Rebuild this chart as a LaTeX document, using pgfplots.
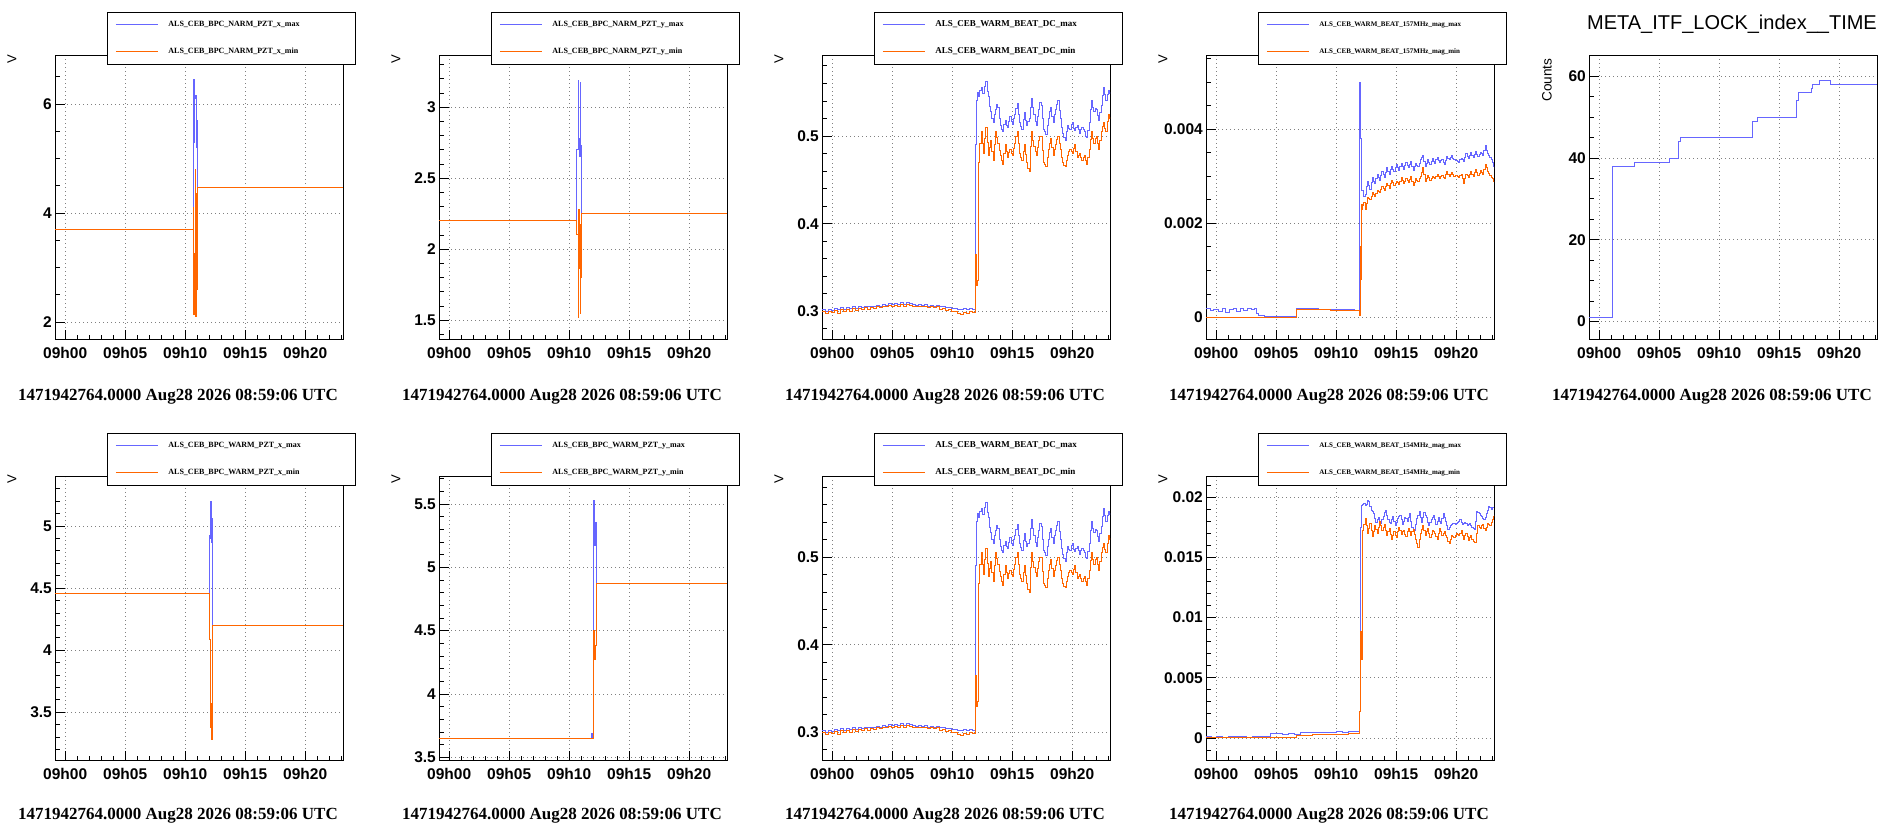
\documentclass[border=0pt]{standalone}
\usepackage{fontspec}
\setmainfont{Liberation Serif}
\setsansfont{Liberation Sans}
\usepackage{pgfplots}
\pgfplotsset{compat=1.18}
\usepackage{pgfplotstable}
\definecolor{rblue}{HTML}{6666FF}
\definecolor{rorange}{HTML}{FF6600}

\pgfplotstableread{
x y
-0.85 0.302
-0.6 0.300
-0.35 0.302
-0.1 0.301
0.15 0.303
0.4 0.302
0.65 0.304
0.9 0.302
1.15 0.304
1.4 0.303
1.65 0.305
1.9 0.303
2.15 0.305
2.4 0.304
2.65 0.306
2.9 0.305
3.15 0.306
3.4 0.305
3.65 0.307
3.9 0.306
4.15 0.308
4.4 0.307
4.65 0.309
4.9 0.308
5.15 0.309
5.4 0.308
5.65 0.310
5.9 0.308
6.15 0.310
6.4 0.309
6.65 0.308
6.9 0.307
7.15 0.308
7.4 0.307
7.65 0.308
7.9 0.306
8.15 0.307
8.4 0.306
8.65 0.307
8.9 0.305
9.15 0.305
9.4 0.304
9.65 0.304
9.9 0.303
10.15 0.303
10.4 0.302
10.65 0.302
10.9 0.303
11.15 0.302
11.4 0.303
11.65 0.302
11.95 0.490
12.0 0.540
12.1 0.550
12.2 0.545
12.3 0.552
12.4 0.555
12.5 0.549
12.6 0.548
12.7 0.556
12.8 0.562
12.9 0.551
13.0 0.545
13.1 0.534
13.2 0.528
13.3 0.520
13.4 0.515
13.5 0.524
13.6 0.530
13.7 0.536
13.8 0.533
13.9 0.520
14.0 0.512
14.1 0.508
14.2 0.505
14.3 0.513
14.4 0.518
14.5 0.512
14.6 0.510
14.7 0.517
14.8 0.522
14.9 0.516
15.0 0.513
15.1 0.520
15.2 0.525
15.3 0.531
15.4 0.537
15.5 0.524
15.6 0.515
15.7 0.511
15.8 0.508
15.9 0.519
16.0 0.527
16.1 0.518
16.2 0.512
16.3 0.516
16.4 0.520
16.5 0.533
16.6 0.543
16.7 0.532
16.8 0.525
16.9 0.517
17.0 0.512
17.1 0.522
17.2 0.530
17.3 0.538
17.4 0.535
17.5 0.520
17.6 0.508
17.7 0.505
17.8 0.502
17.9 0.512
18.0 0.520
18.1 0.528
18.2 0.533
18.3 0.522
18.4 0.515
18.5 0.524
18.6 0.530
18.7 0.536
18.8 0.540
18.9 0.529
19.0 0.520
19.1 0.510
19.2 0.503
19.3 0.498
19.4 0.495
19.5 0.505
19.6 0.512
19.7 0.509
19.8 0.508
19.9 0.513
20.0 0.515
20.1 0.509
20.2 0.506
20.3 0.510
20.4 0.512
20.5 0.507
20.6 0.503
20.7 0.507
20.8 0.510
20.9 0.507
21.0 0.505
21.1 0.500
21.2 0.498
21.3 0.506
21.4 0.515
21.5 0.530
21.6 0.540
21.7 0.533
21.8 0.528
21.9 0.531
22.0 0.530
22.1 0.523
22.2 0.518
22.3 0.527
22.4 0.535
22.5 0.546
22.6 0.555
22.7 0.547
22.8 0.540
22.9 0.547
23.0 0.552
23.1 0.548
23.15 0.550
}\dcmax

\pgfplotstableread{
x y
-0.85 0.300
-0.6 0.298
-0.35 0.300
-0.1 0.299
0.15 0.301
0.4 0.298
0.65 0.302
0.9 0.300
1.15 0.302
1.4 0.300
1.65 0.303
1.9 0.301
2.15 0.303
2.4 0.302
2.65 0.304
2.9 0.302
3.15 0.304
3.4 0.303
3.65 0.305
3.9 0.304
4.15 0.306
4.4 0.305
4.65 0.307
4.9 0.306
5.15 0.307
5.4 0.306
5.65 0.308
5.9 0.306
6.15 0.308
6.4 0.307
6.65 0.306
6.9 0.305
7.15 0.306
7.4 0.305
7.65 0.306
7.9 0.304
8.15 0.305
8.4 0.304
8.65 0.305
8.9 0.302
9.15 0.303
9.4 0.301
9.65 0.302
9.9 0.300
10.15 0.300
10.4 0.297
10.65 0.296
10.9 0.299
11.15 0.298
11.4 0.300
11.65 0.299
11.95 0.365
12.0 0.330
12.1 0.335
12.2 0.470
12.3 0.492
12.4 0.505
12.5 0.491
12.6 0.480
12.7 0.497
12.8 0.510
12.9 0.493
13.0 0.478
13.1 0.487
13.2 0.495
13.3 0.482
13.4 0.472
13.5 0.490
13.6 0.505
13.7 0.498
13.8 0.492
13.9 0.484
14.0 0.478
14.1 0.472
14.2 0.468
14.3 0.480
14.4 0.490
14.5 0.482
14.6 0.475
14.7 0.481
14.8 0.485
14.9 0.480
15.0 0.478
15.1 0.486
15.2 0.492
15.3 0.499
15.4 0.505
15.5 0.491
15.6 0.480
15.7 0.476
15.8 0.472
15.9 0.482
16.0 0.490
16.1 0.479
16.2 0.470
16.3 0.463
16.4 0.460
16.5 0.488
16.6 0.505
16.7 0.495
16.8 0.488
16.9 0.482
17.0 0.478
17.1 0.487
17.2 0.495
17.3 0.499
17.4 0.500
17.5 0.484
17.6 0.470
17.7 0.467
17.8 0.465
17.9 0.476
18.0 0.485
18.1 0.492
18.2 0.497
18.3 0.487
18.4 0.478
18.5 0.485
18.6 0.490
18.7 0.496
18.8 0.500
18.9 0.492
19.0 0.485
19.1 0.476
19.2 0.470
19.3 0.466
19.4 0.465
19.5 0.472
19.6 0.478
19.7 0.482
19.8 0.485
19.9 0.482
20.0 0.480
20.1 0.486
20.2 0.490
20.3 0.482
20.4 0.475
20.5 0.478
20.6 0.480
20.7 0.475
20.8 0.472
20.9 0.476
21.0 0.478
21.1 0.472
21.2 0.468
21.3 0.476
21.4 0.485
21.5 0.496
21.6 0.505
21.7 0.497
21.8 0.492
21.9 0.497
22.0 0.500
22.1 0.492
22.2 0.485
22.3 0.495
22.4 0.505
22.5 0.511
22.6 0.515
22.7 0.509
22.8 0.505
22.9 0.516
23.0 0.525
23.1 0.520
23.15 0.522
}\dcmin

\pgfplotstableread{
x y
-0.85 0.00018
-0.5 0.00014
-0.2 0.00017
0.2 0.00012
0.5 0.00018
0.8 0.00011
1.1 0.00016
1.4 0.00019
1.7 0.00013
2.0 0.00018
2.3 0.00015
2.6 0.00019
2.9 0.00016
3.2 0.00018
3.36 0.00009
3.5 0.00004
4 0.00002
5 0.00003
6 0.00002
6.7 0.00019
7.5 0.00018
8.5 0.00017
9.5 0.00016
10.5 0.00016
11.5 0.00015
11.97 0.0050
12.05 0.0038
12.1 0.0027
12.2 0.00270
12.3 0.00258
12.4 0.00262
12.5 0.00278
12.6 0.00290
12.7 0.00280
12.8 0.00272
12.9 0.00288
13.0 0.00298
13.1 0.00290
13.2 0.00285
13.3 0.00296
13.4 0.00305
13.5 0.00298
13.6 0.00292
13.7 0.00302
13.8 0.00310
13.9 0.00303
14.0 0.00298
14.1 0.00309
14.2 0.00318
14.3 0.00310
14.4 0.00305
14.5 0.00314
14.6 0.00322
14.7 0.00315
14.8 0.00310
14.9 0.00318
15.0 0.00325
15.1 0.00318
15.2 0.00312
15.3 0.00321
15.4 0.00328
15.5 0.00320
15.6 0.00315
15.7 0.00323
15.8 0.00330
15.9 0.00323
16.0 0.00318
16.1 0.00326
16.2 0.00332
16.3 0.00320
16.4 0.00312
16.5 0.00320
16.6 0.00328
16.7 0.00323
16.8 0.00320
16.9 0.00328
17.0 0.00335
17.1 0.00340
17.2 0.00345
17.3 0.00332
17.4 0.00322
17.5 0.00328
17.6 0.00335
17.7 0.00329
17.8 0.00325
17.9 0.00332
18.0 0.00338
18.1 0.00332
18.2 0.00328
18.3 0.00335
18.4 0.00340
18.5 0.00334
18.6 0.00330
18.7 0.00333
18.8 0.00335
18.9 0.00329
19.0 0.00325
19.1 0.00334
19.2 0.00342
19.3 0.00338
19.4 0.00335
19.5 0.00341
19.6 0.00345
19.7 0.00339
19.8 0.00335
19.9 0.00334
20.0 0.00333
20.1 0.00331
20.2 0.00330
20.3 0.00335
20.4 0.00338
20.5 0.00335
20.6 0.00332
20.7 0.00341
20.8 0.00348
20.9 0.00342
21.0 0.00338
21.1 0.00345
21.2 0.00350
21.3 0.00344
21.4 0.00340
21.5 0.00347
21.6 0.00352
21.7 0.00346
21.8 0.00342
21.9 0.00347
22.0 0.00350
22.1 0.00348
22.2 0.00345
22.3 0.00356
22.4 0.00365
22.5 0.00355
22.6 0.00348
22.7 0.00344
22.8 0.00340
22.9 0.00336
23.0 0.00330
23.1 0.00322
23.15 0.00315
}\hmax

\pgfplotstableread{
x y
-0.85 0
6.7 0.00017
8 0.00016
9.5 0.00015
11 0.00014
11.97 0.00004
12.0 0.0015
12.05 0.0008
12.1 0.0024
12.15 0.00230
12.2 0.00238
12.3 0.00245
12.4 0.00230
12.5 0.00243
12.6 0.00255
12.7 0.00252
12.8 0.00250
12.9 0.00258
13.0 0.00265
13.1 0.00261
13.2 0.00258
13.3 0.00264
13.4 0.00270
13.5 0.00267
13.6 0.00265
13.7 0.00272
13.8 0.00278
13.9 0.00274
14.0 0.00270
14.1 0.00278
14.2 0.00285
14.3 0.00280
14.4 0.00275
14.5 0.00284
14.6 0.00292
14.7 0.00286
14.8 0.00280
14.9 0.00285
15.0 0.00290
15.1 0.00286
15.2 0.00282
15.3 0.00290
15.4 0.00298
15.5 0.00291
15.6 0.00285
15.7 0.00290
15.8 0.00295
15.9 0.00291
16.0 0.00288
16.1 0.00294
16.2 0.00300
16.3 0.00290
16.4 0.00280
16.5 0.00288
16.6 0.00295
16.7 0.00292
16.8 0.00290
16.9 0.00295
17.0 0.00300
17.1 0.00309
17.2 0.00318
17.3 0.00304
17.4 0.00290
17.5 0.00296
17.6 0.00302
17.7 0.00297
17.8 0.00292
17.9 0.00296
18.0 0.00300
18.1 0.00297
18.2 0.00295
18.3 0.00300
18.4 0.00305
18.5 0.00300
18.6 0.00295
18.7 0.00299
18.8 0.00302
18.9 0.00298
19.0 0.00295
19.1 0.00303
19.2 0.00310
19.3 0.00305
19.4 0.00300
19.5 0.00304
19.6 0.00308
19.7 0.00304
19.8 0.00300
19.9 0.00301
20.0 0.00302
20.1 0.00300
20.2 0.00298
20.3 0.00302
20.4 0.00305
20.5 0.00295
20.6 0.00285
20.7 0.00295
20.8 0.00305
20.9 0.00301
21.0 0.00298
21.1 0.00304
21.2 0.00310
21.3 0.00305
21.4 0.00300
21.5 0.00308
21.6 0.00315
21.7 0.00308
21.8 0.00302
21.9 0.00307
22.0 0.00312
22.1 0.00308
22.2 0.00305
22.3 0.00315
22.4 0.00325
22.5 0.00318
22.6 0.00310
22.7 0.00306
22.8 0.00302
22.9 0.00298
23.0 0.00295
23.1 0.00290
23.15 0.00288
}\hmin

\pgfplotstableread{
x y
-0.85 0.00012
-0.4 0.00008
0 0.00011
0.5 0.00007
1 0.00012
1.5 0.00009
2 0.00013
2.5 0.00008
3 0.00012
3.5 0.0001
4 0.00011
4.5 0.00034
5 0.00035
5.5 0.00032
6 0.00036
6.5 0.00033
7 0.00045
7.5 0.00044
8 0.00047
8.5 0.00045
9 0.00048
9.5 0.00046
10 0.0005
10.5 0.00049
11 0.00052
11.5 0.00055
11.97 0.0022
12.0 0.0175
12.1 0.0193
12.2 0.0194
12.3 0.0195
12.4 0.0193
12.5 0.0194
12.6 0.0197
12.7 0.0196
12.8 0.0192
12.9 0.0189
13.0 0.0188
13.1 0.0186
13.2 0.0182
13.3 0.0179
13.4 0.0181
13.5 0.0183
13.6 0.0180
13.7 0.0178
13.8 0.0181
13.9 0.0184
14.0 0.0187
14.1 0.0189
14.2 0.0185
14.3 0.0181
14.4 0.0179
14.5 0.0178
14.6 0.0181
14.7 0.0184
14.8 0.0180
14.9 0.0176
15.0 0.0179
15.1 0.0182
15.2 0.0184
15.3 0.0185
15.4 0.0181
15.5 0.0177
15.6 0.0180
15.7 0.0183
15.8 0.0182
15.9 0.0180
16.0 0.0183
16.1 0.0186
16.2 0.0180
16.3 0.0175
16.4 0.0173
16.5 0.0172
16.6 0.0177
16.7 0.0182
16.8 0.0185
16.9 0.0188
17.0 0.0183
17.1 0.0179
17.2 0.0183
17.3 0.0187
17.4 0.0185
17.5 0.0183
17.6 0.0179
17.7 0.0176
17.8 0.0179
17.9 0.0181
18.0 0.0183
18.1 0.0185
18.2 0.0181
18.3 0.0177
18.4 0.0180
18.5 0.0183
18.6 0.0180
18.7 0.0178
18.8 0.0182
18.9 0.0186
19.0 0.0183
19.1 0.0180
19.2 0.0176
19.3 0.0173
19.4 0.0175
19.5 0.0176
19.6 0.0177
19.7 0.0178
19.8 0.0178
19.9 0.0177
20.0 0.0178
20.1 0.0179
20.2 0.0180
20.3 0.0181
20.4 0.0179
20.5 0.0177
20.6 0.0178
20.7 0.0179
20.8 0.0178
20.9 0.0176
21.0 0.0177
21.1 0.0178
21.2 0.0176
21.3 0.0175
21.4 0.0174
21.5 0.0173
21.6 0.0180
21.7 0.0188
21.8 0.0187
21.9 0.0186
22.0 0.0185
22.1 0.0184
22.2 0.0182
22.3 0.0181
22.4 0.0183
22.5 0.0186
22.6 0.0189
22.7 0.0192
22.8 0.0191
22.9 0.0190
23.0 0.0191
23.15 0.0191
}\gmax

\pgfplotstableread{
x y
-0.85 0
6.7 0.0002
8 0.00028
9 0.0003
10 0.00033
11 0.00035
11.97 0.0022
12.02 0.0088
12.1 0.0065
12.2 0.0172
12.3 0.0177
12.4 0.0182
12.5 0.0176
12.6 0.0170
12.7 0.0174
12.8 0.0178
12.9 0.0172
13.0 0.0167
13.1 0.0171
13.2 0.0176
13.3 0.0173
13.4 0.0170
13.5 0.0175
13.6 0.0180
13.7 0.0176
13.8 0.0172
13.9 0.0175
14.0 0.0177
14.1 0.0172
14.2 0.0168
14.3 0.0171
14.4 0.0174
14.5 0.0169
14.6 0.0165
14.7 0.0168
14.8 0.0171
14.9 0.0168
15.0 0.0166
15.1 0.0171
15.2 0.0175
15.3 0.0172
15.4 0.0169
15.5 0.0171
15.6 0.0172
15.7 0.0169
15.8 0.0167
15.9 0.0171
16.0 0.0174
16.1 0.0171
16.2 0.0168
16.3 0.0171
16.4 0.0173
16.5 0.0169
16.6 0.0165
16.7 0.0161
16.8 0.0158
16.9 0.0165
17.0 0.0170
17.1 0.0173
17.2 0.0176
17.3 0.0172
17.4 0.0168
17.5 0.0171
17.6 0.0174
17.7 0.0170
17.8 0.0166
17.9 0.0169
18.0 0.0172
18.1 0.0171
18.2 0.0170
18.3 0.0167
18.4 0.0165
18.5 0.0170
18.6 0.0174
18.7 0.0171
18.8 0.0168
18.9 0.0170
19.0 0.0171
19.1 0.0168
19.2 0.0166
19.3 0.0163
19.4 0.0161
19.5 0.0165
19.6 0.0168
19.7 0.0167
19.8 0.0166
19.9 0.0168
20.0 0.0170
20.1 0.0169
20.2 0.0168
20.3 0.0170
20.4 0.0172
20.5 0.0168
20.6 0.0165
20.7 0.0168
20.8 0.0170
20.9 0.0167
21.0 0.0164
21.1 0.0166
21.2 0.0168
21.3 0.0165
21.4 0.0163
21.5 0.0162
21.6 0.0162
21.7 0.0170
21.8 0.0176
21.9 0.0175
22.0 0.0174
22.1 0.0176
22.2 0.0177
22.3 0.0174
22.4 0.0172
22.5 0.0175
22.6 0.0178
22.7 0.0177
22.8 0.0176
22.9 0.0179
23.0 0.0181
23.1 0.0184
23.15 0.0185
}\gmin

\pgfplotsset{
  rootaxis/.style={
    scale only axis, width=288pt, height=284pt, anchor=south west,
    xmin=-0.85, xmax=23.15,
    xtick={0,5,10,15,20}, xticklabels={09h00,09h05,09h10,09h15,09h20},
    minor xtick={1,2,3,4,6,7,8,9,11,12,13,14,16,17,18,19,21,22,23},
    tick align=inside, xtick pos=bottom, ytick pos=left,
    major tick length=10pt, minor tick length=5pt,
    tick style={black, line width=0.8pt},
    axis line style={line width=1pt},
    grid=major, major grid style={gray, line width=0.9pt, dash pattern=on 1pt off 3pt},
    scaled ticks=false,
    tick label style={font=\fontsize{15.5}{16}\selectfont\sffamily\bfseries, inner sep=0pt},
    xticklabel style={yshift=-7pt},
    yticklabel style={xshift=-3pt},
    legend cell align=left,
    legend style={at={(rel axis cs:0.1806,1.155)}, anchor=north west, draw=black, line width=0.8pt, fill=white,
       inner xsep=0pt, inner ysep=8.5pt, column sep=10pt, row sep=19pt,
       font=\fontsize{8}{8}\selectfont\bfseries,
       nodes={inner sep=0pt, text height=6pt, text depth=2pt}},
    legend image code/.code={\path (0pt,0pt); \draw[##1] (8pt,0pt) -- (50pt,0pt);},
  },
  bl/.style={rblue, line width=1pt, const plot, mark=none},
  og/.style={rorange, line width=1pt, const plot, mark=none},
}
\newcommand{\lt}[1]{\makebox[187pt][l]{#1}}

\begin{document}
\begin{tikzpicture}
\useasboundingbox (0pt,0pt) rectangle (1903pt,835pt);

% ---------- Row 1 ----------
\begin{axis}[rootaxis, at={(55pt,495pt)},
  ymin=1.67, ymax=6.88, ytick={2,4,6}, yticklabels={2,4,6},
  minor ytick={2.5,3,3.5,4.5,5,5.5,6.5}]
\addplot[bl] coordinates {(-0.85,3.69) (10.67,4.1) (10.69,6.45) (10.72,5.3) (10.74,6.45) (10.77,5.3) (10.8,6.1) (10.89,6.15) (10.92,5.2) (10.95,5.7) (11.02,4.46) (23.15,4.46)};
\addlegendentry{\lt{ALS\_CEB\_BPC\_NARM\_PZT\_x\_max}}
\addplot[og] coordinates {(-0.85,3.69) (10.67,4.1) (10.69,2.13) (10.74,3.25) (10.77,2.35) (10.8,2.13) (10.85,4.8) (10.89,2.1) (10.92,4.35) (10.97,2.6) (11.02,4.46) (23.15,4.46)};
\addlegendentry{\lt{ALS\_CEB\_BPC\_NARM\_PZT\_x\_min}}
\end{axis}

\begin{axis}[rootaxis, at={(439pt,495pt)},
  ymin=1.36, ymax=3.36, ytick={1.5,2,2.5,3}, yticklabels={1.5,2,2.5,3},
  minor ytick={1.4,1.6,1.7,1.8,1.9,2.1,2.2,2.3,2.4,2.6,2.7,2.8,2.9,3.1,3.2,3.3}]
\addplot[bl] coordinates {(-0.85,2.2) (10.64,2.7) (10.75,3.19) (10.8,2.78) (10.86,2.65) (10.9,3.17) (10.95,2.73) (11.03,2.25) (23.15,2.25)};
\addlegendentry{\lt{ALS\_CEB\_BPC\_NARM\_PZT\_y\_max}}
\addplot[og] coordinates {(-0.85,2.2) (10.64,2.1) (10.75,1.52) (10.8,2.28) (10.84,1.86) (10.87,2.17) (10.9,1.55) (10.94,2.15) (10.97,1.8) (11.03,2.25) (23.15,2.25)};
\addlegendentry{\lt{ALS\_CEB\_BPC\_NARM\_PZT\_y\_min}}
\end{axis}

\begin{axis}[rootaxis, at={(822pt,495pt)},
  ymin=0.2673, ymax=0.5913, ytick={0.3,0.4,0.5}, yticklabels={0.3,0.4,0.5},
  minor ytick={0.28,0.32,0.34,0.36,0.38,0.42,0.44,0.46,0.48,0.52,0.54,0.56,0.58},
  legend style={font=\fontsize{9}{9}\selectfont\bfseries}]
\addplot[bl] table {\dcmax};
\addlegendentry{\lt{ALS\_CEB\_WARM\_BEAT\_DC\_max}}
\addplot[og] table {\dcmin};
\addlegendentry{\lt{ALS\_CEB\_WARM\_BEAT\_DC\_min}}
\end{axis}

\begin{axis}[rootaxis, at={(1206pt,495pt)},
  ymin=-0.00048, ymax=0.00556, ytick={0,0.002,0.004}, yticklabels={0,0.002,0.004},
  minor ytick={0.0005,0.001,0.0015,0.0025,0.003,0.0035,0.0045,0.005,0.0055},
  legend style={font=\fontsize{7}{7}\selectfont\bfseries}]
\addplot[bl] table {\hmax};
\addlegendentry{\lt{ALS\_CEB\_WARM\_BEAT\_157MHz\_mag\_max}}
\addplot[og] table {\hmin};
\addlegendentry{\lt{ALS\_CEB\_WARM\_BEAT\_157MHz\_mag\_min}}
\end{axis}

\begin{axis}[rootaxis, at={(1589pt,495pt)},
  ymin=-4.56, ymax=65, ytick={0,20,40,60}, yticklabels={0,20,40,60},
  minor ytick={5,10,15,25,30,35,45,50,55}]
\addplot[bl] coordinates {(-0.85,1) (1.08,38) (2.92,39) (5.83,40) (6.61,44) (6.8,45) (12.75,49) (13.17,50) (16.42,54) (16.58,56) (17.69,57) (17.75,58) (18.36,59) (19.25,58) (23.15,58)};
\end{axis}

% ---------- Row 2 ----------
\begin{axis}[rootaxis, at={(55pt,74pt)},
  ymin=3.1075, ymax=5.395, ytick={3.5,4,4.5,5}, yticklabels={3.5,4,4.5,5},
  minor ytick={3.2,3.3,3.4,3.6,3.7,3.8,3.9,4.1,4.2,4.3,4.4,4.6,4.7,4.8,4.9,5.1,5.2,5.3}]
\addplot[bl] coordinates {(-0.85,4.46) (12.0,4.92) (12.08,5.17) (12.11,4.9) (12.14,5.2) (12.17,4.87) (12.2,5.06) (12.25,4.2) (23.15,4.2)};
\addlegendentry{\lt{ALS\_CEB\_BPC\_WARM\_PZT\_x\_max}}
\addplot[og] coordinates {(-0.85,4.46) (12.0,4.09) (12.08,3.38) (12.12,3.57) (12.15,3.28) (12.25,4.2) (23.15,4.2)};
\addlegendentry{\lt{ALS\_CEB\_BPC\_WARM\_PZT\_x\_min}}
\end{axis}

\begin{axis}[rootaxis, at={(439pt,74pt)},
  ymin=3.471, ymax=5.713, ytick={3.5,4,4.5,5,5.5}, yticklabels={3.5,4,4.5,5,5.5},
  minor ytick={3.6,3.7,3.8,3.9,4.1,4.2,4.3,4.4,4.6,4.7,4.8,4.9,5.1,5.2,5.3,5.4,5.6,5.7}]
\addplot[bl] coordinates {(-0.85,3.65) (11.88,3.69) (11.92,3.65) (12.0,4.1) (12.02,5.53) (12.1,5.17) (12.13,5.35) (12.2,5.17) (12.23,5.35) (12.28,4.87) (23.15,4.87)};
\addlegendentry{\lt{ALS\_CEB\_BPC\_WARM\_PZT\_y\_max}}
\addplot[og] coordinates {(-0.85,3.65) (12.0,4.12) (12.03,4.5) (12.1,4.27) (12.15,4.38) (12.28,4.87) (23.15,4.87)};
\addlegendentry{\lt{ALS\_CEB\_BPC\_WARM\_PZT\_y\_min}}
\end{axis}

\begin{axis}[rootaxis, at={(822pt,74pt)},
  ymin=0.2673, ymax=0.5913, ytick={0.3,0.4,0.5}, yticklabels={0.3,0.4,0.5},
  minor ytick={0.28,0.32,0.34,0.36,0.38,0.42,0.44,0.46,0.48,0.52,0.54,0.56,0.58},
  legend style={font=\fontsize{9}{9}\selectfont\bfseries}]
\addplot[bl] table {\dcmax};
\addlegendentry{\lt{ALS\_CEB\_WARM\_BEAT\_DC\_max}}
\addplot[og] table {\dcmin};
\addlegendentry{\lt{ALS\_CEB\_WARM\_BEAT\_DC\_min}}
\end{axis}

\begin{axis}[rootaxis, at={(1206pt,74pt)},
  ymin=-0.00191, ymax=0.02166, ytick={0,0.005,0.01,0.015,0.02}, yticklabels={0,0.005,0.01,0.015,0.02},
  minor ytick={-0.001,0.001,0.002,0.003,0.004,0.006,0.007,0.008,0.009,0.011,0.012,0.013,0.014,0.016,0.017,0.018,0.019,0.021},
  legend style={font=\fontsize{7}{7}\selectfont\bfseries}]
\addplot[bl] table {\gmax};
\addlegendentry{\lt{ALS\_CEB\_WARM\_BEAT\_154MHz\_mag\_max}}
\addplot[og] table {\gmin};
\addlegendentry{\lt{ALS\_CEB\_WARM\_BEAT\_154MHz\_mag\_min}}
\end{axis}

% ---------- labels ----------
\foreach \xl in {12,396,779,1163} {
  \node[rotate=90, font=\fontsize{13}{13}\selectfont\sffamily] at (\xl pt,776pt) {V};
  \node[rotate=90, font=\fontsize{13}{13}\selectfont\sffamily] at (\xl pt,356pt) {V};
}
\node[rotate=90, anchor=east, font=\fontsize{13.6}{14}\selectfont\sffamily] at (1547pt,780pt) {Counts};
\node[anchor=base east, inner sep=0pt, font=\fontsize{20}{20}\selectfont\sffamily] at (1877pt,805.5pt) {META\_ITF\_LOCK\_index\_\_TIME};
\foreach \xc in {178,562,945,1329,1712} {
  \node[font=\fontsize{17}{17}\selectfont\bfseries] at (\xc pt,438pt) {1471942764.0000 Aug28 2026 08:59:06 UTC};
}
\foreach \xc in {178,562,945,1329} {
  \node[font=\fontsize{17}{17}\selectfont\bfseries] at (\xc pt,19pt) {1471942764.0000 Aug28 2026 08:59:06 UTC};
}
\end{tikzpicture}
\end{document}
